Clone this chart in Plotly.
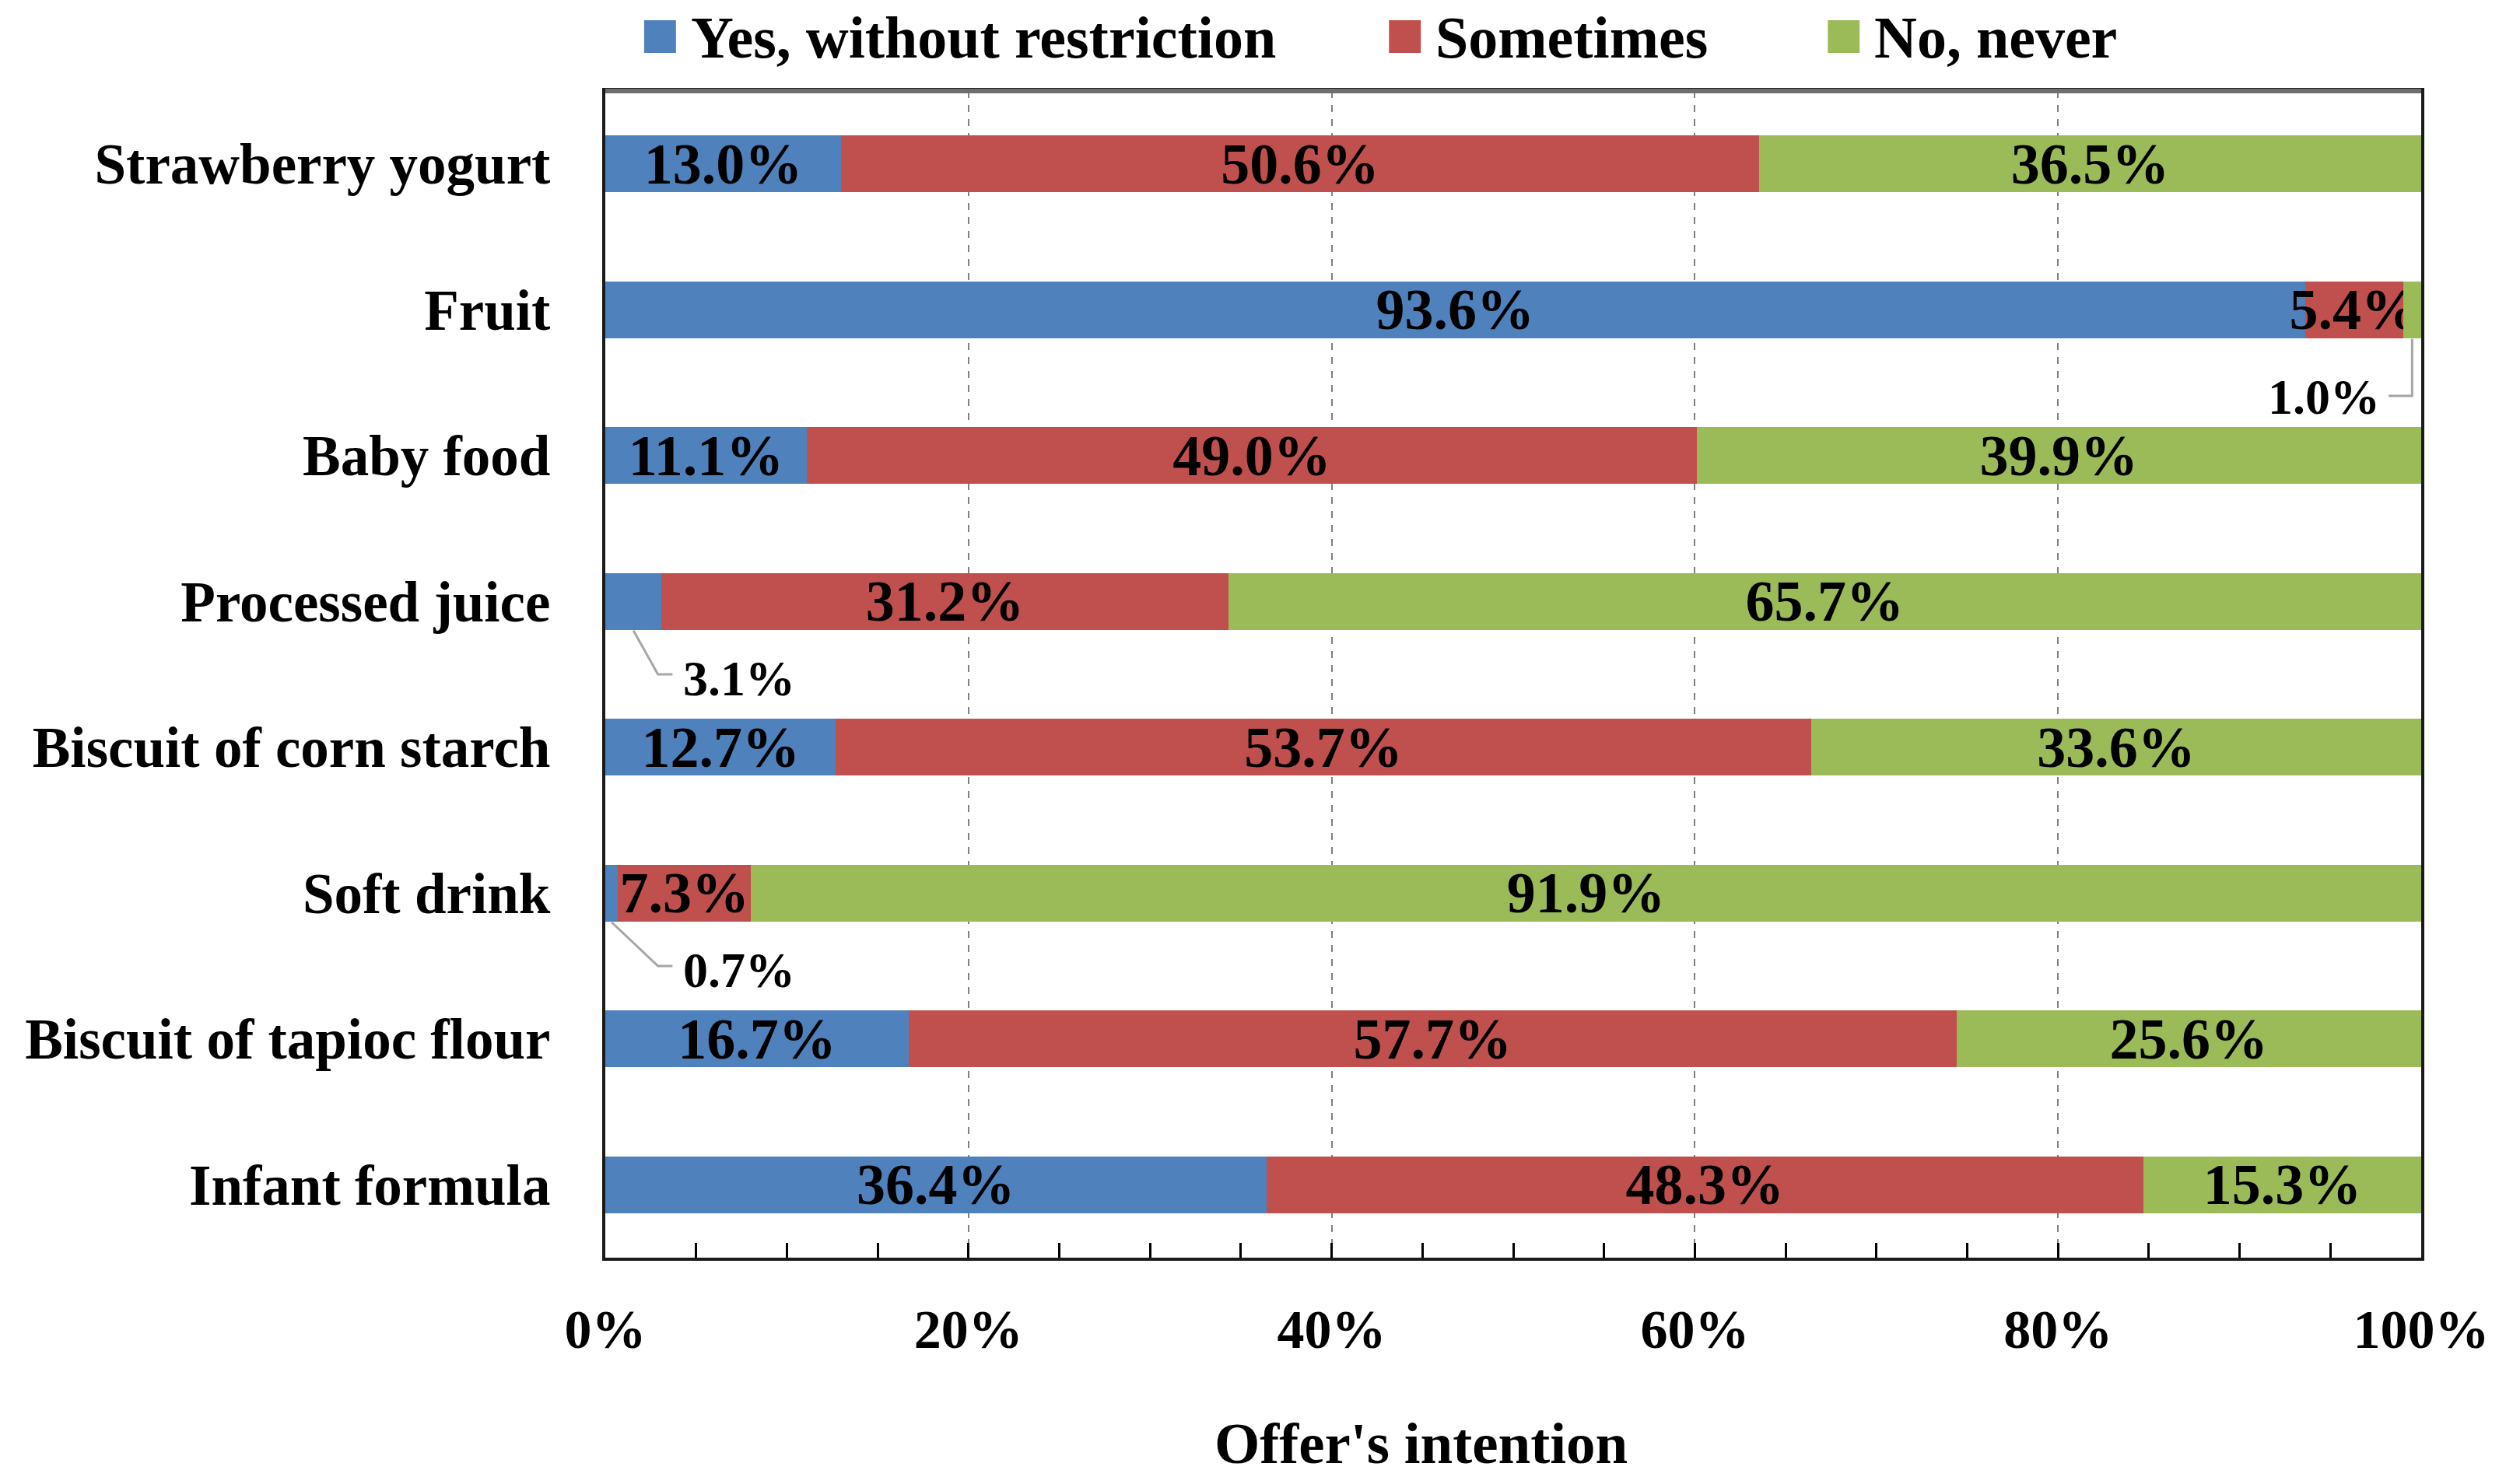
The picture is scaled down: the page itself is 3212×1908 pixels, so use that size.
import plotly.graph_objects as go

# ---------------- data ----------------
categories = ["Strawberry yogurt", "Fruit", "Baby food", "Processed juice",
              "Biscuit of corn starch", "Soft drink", "Biscuit of tapioc flour",
              "Infant formula"]
series_names = ["Yes, without restriction", "Sometimes", "No, never"]
yes_vals = [13.0, 93.6, 11.1, 3.1, 12.7, 0.7, 16.7, 36.4]
sometimes_vals = [50.6, 5.4, 49.0, 31.2, 53.7, 7.3, 57.7, 48.3]
never_vals = [36.5, 1.0, 39.9, 65.7, 33.6, 91.9, 25.6, 15.3]
x_tick_vals = [0, 20, 40, 60, 80, 100]
x_tick_labels = ["0%", "20%", "40%", "60%", "80%", "100%"]
axis_title = "Offer's intention"

# ---------------- style ----------------
colors = ["#4F81BD", "#C0504D", "#9BBB59"]
FONT = "Liberation Serif"
W, H = 3212, 1908
L, R, T, B = 778, 3116, 117, 1617
SMALL = 4.0  # segments narrower than this get an outside label


def px_x(px):
    return (px - L) / (R - L)


def px_y(py):
    return (B - py) / (B - T)


series = [yes_vals, sometimes_vals, never_vals]
y_idx = list(range(len(categories)))

fig = go.Figure()
for name, vals, col in zip(series_names, series, colors):
    fig.add_trace(go.Bar(
        name=name, y=y_idx, x=vals, orientation="h",
        marker=dict(color=col, line=dict(width=0)),
        width=0.39,
        text=[f"{v:.1f}%" if v >= SMALL else "" for v in vals],
        textposition="inside", insidetextanchor="middle", textangle=0,
        insidetextfont=dict(family=FONT, size=74, color="black", weight="bold"),
        constraintext="none",
        showlegend=False, hoverinfo="skip",
    ))

# outside labels with leader lines for small segments (positions derived from data)
lx, ly = [], []
annotations = []
for i in y_idx:
    row = [s[i] for s in series]
    tot = sum(row)
    cum = 0.0
    for v in row:
        nv = v / tot * 100.0
        start, end = cum, cum + nv
        c = (start + end) / 2
        cum = end
        if v >= SMALL:
            continue
        yb = i + 0.2
        if c < 50:
            yl = i + 0.5
            tx = start + 4.2
            lx += [c, tx - 1.3, tx - 0.5, None]
            ly += [yb, yl, yl, None]
            annotations.append(dict(x=tx, y=i + 0.53, xref="x", yref="y",
                                    text=f"{v:.1f}%", showarrow=False,
                                    xanchor="left", yanchor="middle",
                                    font=dict(family=FONT, size=64, color="black", weight="bold")))
        else:
            yl = i + 0.59
            lx += [c, c, c - 1.3, None]
            ly += [yb, yl, yl, None]
            annotations.append(dict(x=c - 1.7, y=i + 0.6, xref="x", yref="y",
                                    text=f"{v:.1f}%", showarrow=False,
                                    xanchor="right", yanchor="middle",
                                    font=dict(family=FONT, size=64, color="black", weight="bold")))

fig.add_trace(go.Scatter(x=lx, y=ly, mode="lines",
                         line=dict(color="#A6A6A6", width=3),
                         showlegend=False, hoverinfo="skip", cliponaxis=False))

# manual legend
shapes = []
legend_sq = [828, 1787, 2352]
for name, col, sx in zip(series_names, colors, legend_sq):
    shapes.append(dict(type="rect", xref="paper", yref="paper",
                       x0=px_x(sx), x1=px_x(sx + 41), y0=px_y(68), y1=px_y(26),
                       fillcolor=col, line=dict(width=0)))
    annotations.append(dict(x=px_x(sx + 58), y=px_y(48), xref="paper", yref="paper",
                            text=name, showarrow=False, xanchor="left", yanchor="middle",
                            font=dict(family=FONT, size=76, color="black", weight="bold")))

# top border in grey (Excel style)
shapes.append(dict(type="line", xref="paper", yref="paper", x0=0, x1=1, y0=1, y1=1,
                   line=dict(color="#6E6E6E", width=6), layer="above"))

# axis title
annotations.append(dict(x=px_x(1828), y=px_y(1855), xref="paper", yref="paper",
                        text=axis_title, showarrow=False, xanchor="center", yanchor="middle",
                        font=dict(family=FONT, size=75, color="black", weight="bold")))

fig.update_layout(
    width=W, height=H,
    margin=dict(l=L, r=W - R, t=T, b=H - B, pad=0),
    barmode="stack", barnorm="percent",
    paper_bgcolor="white", plot_bgcolor="white",
    shapes=shapes, annotations=annotations,
    font=dict(family=FONT, color="black"),
)

fig.update_xaxes(
    range=[0, 100], tickvals=x_tick_vals, ticktext=x_tick_labels,
    showgrid=True, gridcolor="#808080", griddash="dash", gridwidth=2,
    ticks="inside", ticklen=19, tickwidth=3, tickcolor="black",
    minor=dict(dtick=5, ticks="inside", ticklen=19, tickwidth=3,
               tickcolor="black", showgrid=False),
    showline=True, linecolor="#1A1A1A", linewidth=4, mirror=True,
    tickfont=dict(family=FONT, size=70, color="black", weight="bold"),
    ticklabelstandoff=28, zeroline=False, fixedrange=True,
)
fig.update_yaxes(
    tickvals=y_idx, ticktext=categories, range=[len(categories) - 0.5, -0.5],
    showgrid=False, zeroline=False, ticks="",
    showline=True, linecolor="#1A1A1A", linewidth=4, mirror=True,
    tickfont=dict(family=FONT, size=73, color="black", weight="bold"),
    ticklabelstandoff=52, fixedrange=True,
)

fig.write_html("out.html",
               config={"displayModeBar": False},
               post_script="document.body.style.margin='0';document.body.style.padding='0';")
